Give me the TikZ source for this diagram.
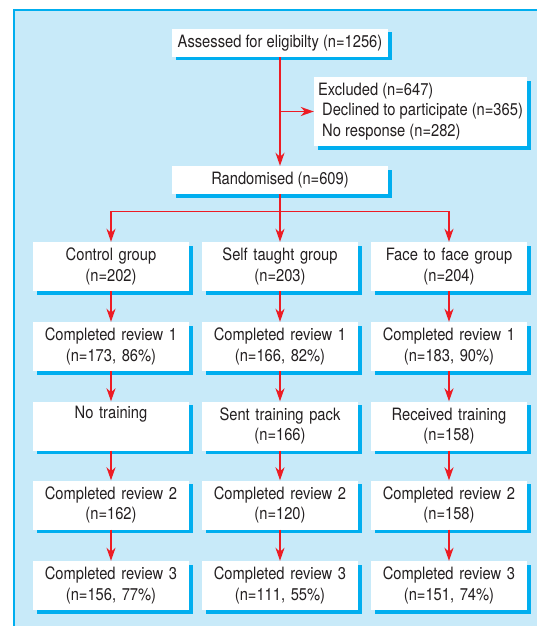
\documentclass[tikz,border=0pt]{standalone}
\usepackage{fontspec}
\setmainfont{TeX Gyre Heros}[FakeStretch=0.865]
\usetikzlibrary{arrows.meta,shadows}
\definecolor{panelbg}{RGB}{200,234,249}
\definecolor{cyanline}{RGB}{0,174,239}
\definecolor{arrred}{RGB}{237,28,36}
\definecolor{txt}{RGB}{35,31,32}
\begin{document}
\begin{tikzpicture}[x=1pt,y=-1pt,
  box/.style={fill=white, inner sep=0pt, align=center, text=txt,
    font=\fontsize{17}{20.5}\selectfont,
    drop shadow={shadow xshift=3.5pt, shadow yshift=-3.5pt, fill=cyanline, opacity=1}},
  wide/.style={box, minimum width=216pt, minimum height=28pt},
  col/.style={box, minimum width=156pt, minimum height=49pt, text width=154pt},
  arr/.style={draw=arrred, line width=1.5pt, -{Stealth[length=13pt,width=9pt,inset=4pt]}},
  ln/.style={draw=arrred, line width=1.5pt}]
\useasboundingbox (0,0) rectangle (537,626);
\fill[panelbg] (14,10) rectangle (537,626);
\draw[cyanline, line width=1.3pt] (14,626) -- (14,10) -- (537,10);

\node[wide] (assess) at (280,43) {Assessed for eligibilty (n=1256)};
\node[box, minimum width=213pt, minimum height=69pt, align=left] (excl) at (420.5,111.5)
  {Excluded (n=647)\\\ Declined to participate (n=365)\\\ No response (n=282)};
\node[wide] (rand) at (280,180) {Randomised (n=609)};

\node[col] (g1) at (111,266.5) {Control group\\(n=202)};
\node[col] (g2) at (280,266.5) {Self taught group\\(n=203)};
\node[col] (g3) at (449,266.5) {Face to face group\\(n=204)};

\node[col] (a1) at (111,346.5) {Completed review 1\\(n=173, 86\%)};
\node[col] (a2) at (280,346.5) {Completed review 1\\(n=166, 82\%)};
\node[col] (a3) at (449,346.5) {Completed review 1\\(n=183, 90\%)};

\node[col] (t1) at (111,426) {No training\\\strut};
\node[col] (t2) at (280,426) {Sent training pack\\(n=166)};
\node[col] (t3) at (449,426) {Received training\\(n=158)};

\node[col] (b1) at (111,505) {Completed review 2\\(n=162)};
\node[col] (b2) at (280,505) {Completed review 2\\(n=120)};
\node[col] (b3) at (449,505) {Completed review 2\\(n=158)};

\node[col] (c1) at (111,585.5) {Completed review 3\\(n=156, 77\%)};
\node[col] (c2) at (280,585.5) {Completed review 3\\(n=111, 55\%)};
\node[col] (c3) at (449,585.5) {Completed review 3\\(n=151, 74\%)};

\draw[arr] (assess.south) -- (rand.north);
\coordinate (branch) at (280,111.5);
\draw[arr] (branch) -- (excl.west);
\coordinate (split) at (280,211.5);
\draw[arr] (rand.south) -- (g2.north);
\draw[arr] (split) -| (g1.north);
\draw[arr] (split) -| (g3.north);

\foreach \i in {1,2,3}{
  \draw[arr] (g\i.south) -- (a\i.north);
  \draw[arr] (a\i.south) -- (t\i.north);
  \draw[arr] (t\i.south) -- (b\i.north);
  \draw[arr] (b\i.south) -- (c\i.north);
}
\end{tikzpicture}
\end{document}
